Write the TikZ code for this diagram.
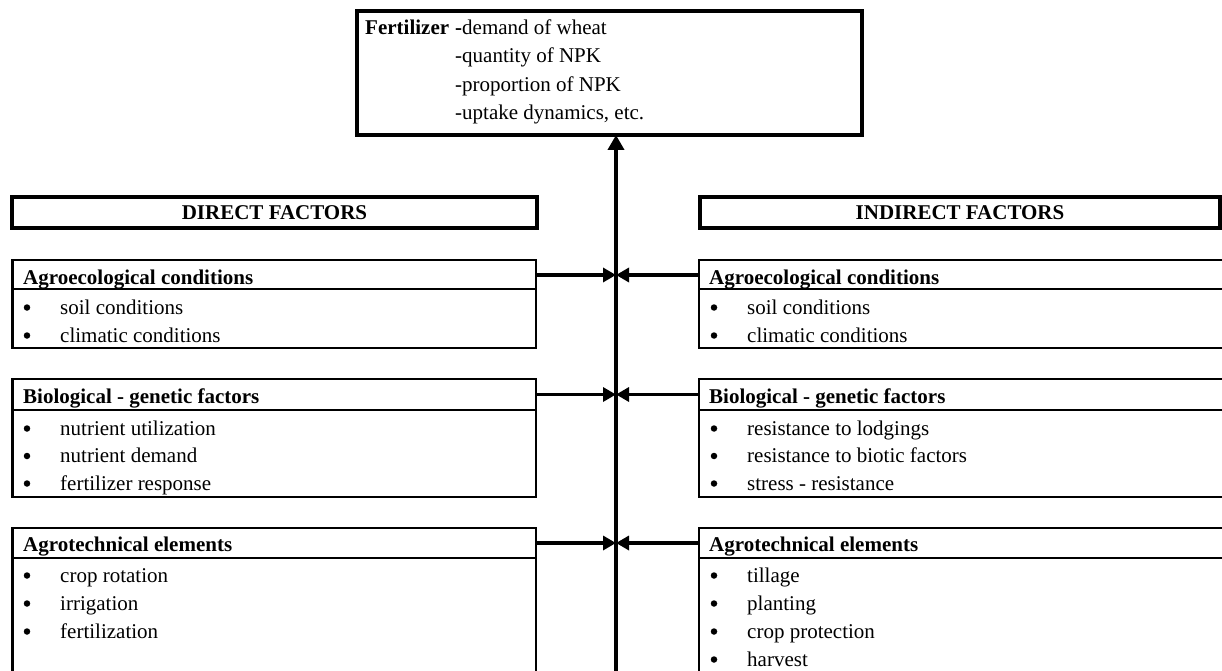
\documentclass[tikz,border=0pt]{standalone}
\usepackage{fontspec}
\setmainfont{Liberation Serif}
\usetikzlibrary{arrows.meta}
\begin{document}
\begin{tikzpicture}[x=1pt,y=-1pt,
  thickbox/.style={draw, line width=4.5pt, inner sep=0pt, outer sep=0pt, anchor=north west,
    font=\fontsize{21}{28}\selectfont\bfseries},
  itembox/.style={draw, line width=2.3pt, inner sep=0pt, outer sep=0pt, anchor=north west},
  hline/.style={line width=2.3pt},
  hdr/.style={font=\fontsize{21}{28}\selectfont\bfseries, anchor=base west, inner sep=0pt},
  txt/.style={font=\fontsize{21}{28}\selectfont, anchor=base west, inner sep=0pt},
  bul/.style={circle, fill=black, draw=none, inner sep=0pt, minimum size=6.5pt},
  conn/.style={line width=3.6pt, -{Triangle[length=13pt,width=14pt]}},
  upconn/.style={line width=3.8pt, -{Triangle[length=15pt,width=16pt]}},
]
\useasboundingbox (0,0) rectangle (1222,671);
\clip (0,0) rectangle (1222,671);

% top box
\node[thickbox, minimum width=505pt, minimum height=124pt] (fert) at (357,11) {};
\node[hdr] (fertlbl) at (365,35) {Fertilizer};
\node[txt] (f1) at (455,35) {\textbf{-}demand of wheat};
\node[txt] (f2) at (455,63) {-quantity of NPK};
\node[txt] (f3) at (455,92) {-proportion of NPK};
\node[txt] (f4) at (455,120) {-uptake dynamics, etc.};

% category boxes
\node[thickbox, minimum width=525pt, minimum height=31pt] (direct) at (12,197) {DIRECT FACTORS};
\node[thickbox, minimum width=520pt, minimum height=31pt] (indirect) at (700,197) {INDIRECT FACTORS};

% left boxes
\node[itembox, minimum width=523.5pt, minimum height=88pt] (la) at (12.5,260) {};
\node[itembox, minimum width=523.5pt, minimum height=118pt] (lb) at (12.5,379) {};
\node[itembox, minimum width=523.5pt, minimum height=180pt] (lc) at (12.5,528) {};
% right boxes (run off the right edge)
\node[itembox, minimum width=560pt, minimum height=88pt] (ra) at (699,260) {};
\node[itembox, minimum width=560pt, minimum height=118pt] (rb) at (699,379) {};
\node[itembox, minimum width=560pt, minimum height=180pt] (rc) at (699,528) {};

% header separator lines
\draw[hline] ([yshift=-29pt]la.north west) -- ([yshift=-29pt]la.north east);
\draw[hline] ([yshift=-31pt]lb.north west) -- ([yshift=-31pt]lb.north east);
\draw[hline] ([yshift=-30pt]lc.north west) -- ([yshift=-30pt]lc.north east);
\draw[hline] ([yshift=-29pt]ra.north west) -- ([yshift=-29pt]ra.north east);
\draw[hline] ([yshift=-31pt]rb.north west) -- ([yshift=-31pt]rb.north east);
\draw[hline] ([yshift=-30pt]rc.north west) -- ([yshift=-30pt]rc.north east);

% headers
\node[hdr] (lah) at (23,284) {Agroecological conditions};
\node[hdr] (lbh) at (23,403) {Biological - genetic factors};
\node[hdr] (lch) at (23,551) {Agrotechnical elements};
\node[hdr] (rah) at (709,284) {Agroecological conditions};
\node[hdr] (rbh) at (709,403) {Biological - genetic factors};
\node[hdr] (rch) at (709,551) {Agrotechnical elements};

% items
\foreach \t [count=\i] in {soil conditions, climatic conditions} {
  \node[bul] (lab\i) at (27,{307.5+28*(\i-1)}) {};
  \node[txt] (lat\i) at (60,{314+28*(\i-1)}) {\t};
  \node[bul] (rab\i) at (714,{307.5+28*(\i-1)}) {};
  \node[txt] (rat\i) at (747,{314+28*(\i-1)}) {\t};
}
\foreach \t [count=\i] in {nutrient utilization, nutrient demand, fertilizer response} {
  \node[bul] (lbb\i) at (27,{428.5+27.5*(\i-1)}) {};
  \node[txt] (lbt\i) at (60,{435+27.5*(\i-1)}) {\t};
}
\foreach \t [count=\i] in {resistance to lodgings, resistance to biotic factors, stress - resistance} {
  \node[bul] (rbb\i) at (714,{428.5+27.5*(\i-1)}) {};
  \node[txt] (rbt\i) at (747,{435+27.5*(\i-1)}) {\t};
}
\foreach \t [count=\i] in {crop rotation, irrigation, fertilization} {
  \node[bul] (lcb\i) at (27,{575.5+28*(\i-1)}) {};
  \node[txt] (lct\i) at (60,{582+28*(\i-1)}) {\t};
}
\foreach \t [count=\i] in {tillage, planting, crop protection, harvest} {
  \node[bul] (rcb\i) at (714,{575.5+28*(\i-1)}) {};
  \node[txt] (rct\i) at (747,{582+28*(\i-1)}) {\t};
}

% central line and connectors
\coordinate (vb) at (616,700);
\coordinate (j1) at (616,275);
\coordinate (j2) at (616,394.5);
\coordinate (j3) at (616,543);
\draw[upconn] (vb) -- (vb |- fert.south);
\draw[conn] ([yshift=-15pt]la.north east) -- (j1);
\draw[conn] ([yshift=-15pt]ra.north west) -- (j1);
\draw[conn] ([yshift=-15.5pt]lb.north east) -- (j2);
\draw[conn] ([yshift=-15.5pt]rb.north west) -- (j2);
\draw[conn] ([yshift=-15pt]lc.north east) -- (j3);
\draw[conn] ([yshift=-15pt]rc.north west) -- (j3);
\end{tikzpicture}
\end{document}
